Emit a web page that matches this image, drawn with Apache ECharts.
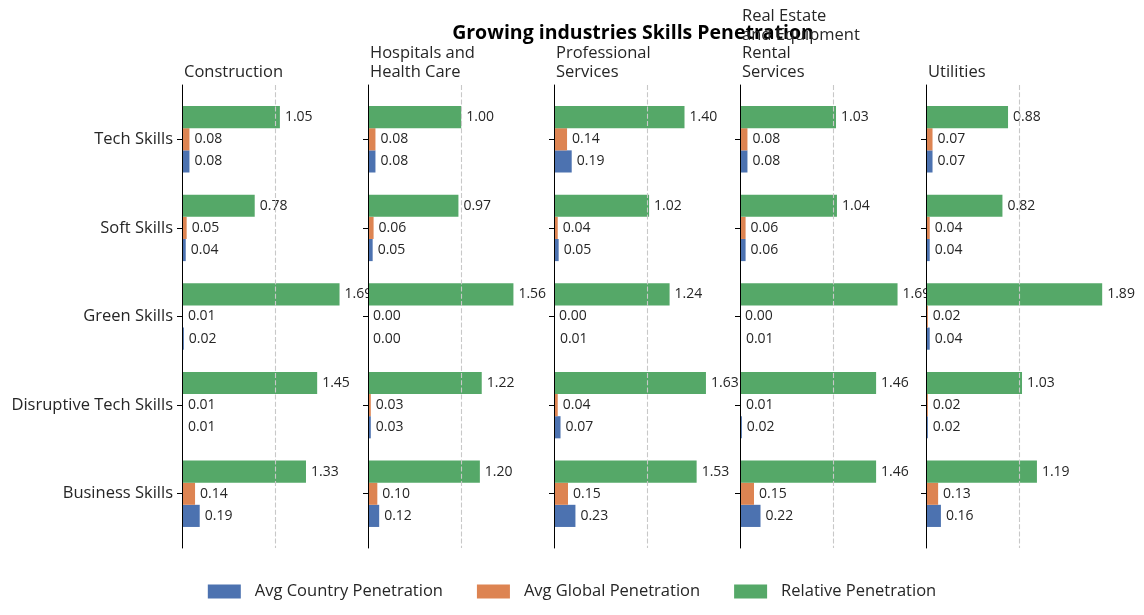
<!DOCTYPE html>
<html>
<head>
<meta charset="utf-8">
<script src="https://cdn.jsdelivr.net/npm/echarts@6/dist/echarts.min.js"></script>
<style>html,body{margin:0;padding:0;background:#fff}#c{width:1144px;height:615px}</style>
</head>
<body>
<div id="c"></div>
<script>
const chartTitle = 'Growing industries Skills Penetration';
const industries = ['Construction', 'Hospitals and\nHealth Care', 'Professional\nServices', 'Real Estate\nand Equipment\nRental\nServices', 'Utilities'];
const skills = ['Tech Skills', 'Soft Skills', 'Green Skills', 'Disruptive Tech Skills', 'Business Skills'];
const seriesNames = ['Avg Country Penetration', 'Avg Global Penetration', 'Relative Penetration'];
// values per industry, in skill order
const avgCountry = [
  [0.08, 0.04, 0.02, 0.01, 0.19],
  [0.08, 0.05, 0.00, 0.03, 0.12],
  [0.19, 0.05, 0.01, 0.07, 0.23],
  [0.08, 0.06, 0.01, 0.02, 0.22],
  [0.07, 0.04, 0.04, 0.02, 0.16]
];
const avgGlobal = [
  [0.08, 0.05, 0.01, 0.01, 0.14],
  [0.08, 0.06, 0.00, 0.03, 0.10],
  [0.14, 0.04, 0.00, 0.04, 0.15],
  [0.08, 0.06, 0.00, 0.01, 0.15],
  [0.07, 0.04, 0.02, 0.02, 0.13]
];
const relative = [
  [1.05, 0.78, 1.69, 1.45, 1.33],
  [1.00, 0.97, 1.56, 1.22, 1.20],
  [1.40, 1.02, 1.24, 1.63, 1.53],
  [1.03, 1.04, 1.69, 1.46, 1.46],
  [0.88, 0.82, 1.89, 1.03, 1.19]
];
const colors = ['#4c72b0', '#dd8452', '#55a868'];
const offsets = [0.25, 0, -0.25];
const BAR_H = 0.25;
const FONT = 'Open Sans';
const TXT = '#262626';

const allVals = [].concat(...avgCountry, ...avgGlobal, ...relative);
const xMax = Math.max(...allVals) * 1.05;
const yMin = -0.375 - 4.75 * 0.05, yMax = 4.375 + 4.75 * 0.05;

const PANEL_LEFT = 182, PANEL_STEP = 186, PANEL_W = 185, TOP = 85, HEIGHT = 463;

function makeRender(offset) {
  return function (params, api) {
    const v = api.value(0), c = api.value(1);
    const p0 = api.coord([0, c + offset]);
    const p1 = api.coord([v, c + offset]);
    const h = api.size([0, BAR_H])[1];
    return {
      type: 'rect',
      shape: { x: p0[0], y: p0[1] - h / 2, width: p1[0] - p0[0], height: h },
      style: { fill: api.visual('color') },
      textContent: { style: { text: v.toFixed(2), fill: TXT, fontSize: 14, fontFamily: FONT } },
      textConfig: { position: 'right', distance: 5 }
    };
  };
}

const grids = [], xAxes = [], yAxes = [], series = [], titles = [];
titles.push({
  text: chartTitle, left: 633, top: 23, textAlign: 'center', padding: 0, z: 100,
  textStyle: { fontFamily: FONT, fontWeight: 'bold', fontSize: 19.5, color: '#000' }
});
industries.forEach((ind, i) => {
  const zb = i * 10;
  grids.push({ left: PANEL_LEFT + i * PANEL_STEP, top: TOP, width: PANEL_W, height: HEIGHT,
    show: true, backgroundColor: '#fff', borderWidth: 0, z: zb });
  xAxes.push({
    type: 'value', gridIndex: i, min: 0, max: xMax, interval: 1, z: zb + 3,
    axisLine: { show: false }, axisTick: { show: false }, axisLabel: { show: false },
    splitLine: { show: true, showMinLine: false, showMaxLine: false,
      lineStyle: { type: [5, 2.2], color: '#c8c8c8', width: 1.1 } }
  });
  yAxes.push({
    type: 'value', gridIndex: i, inverse: true, min: yMin, max: yMax, z: zb + 4,
    axisLine: { show: true, lineStyle: { color: '#000', width: 1 } },
    axisTick: { show: true, length: 5, customValues: [0, 1, 2, 3, 4], lineStyle: { color: '#000' } },
    axisLabel: { show: i === 0, customValues: [0, 1, 2, 3, 4], margin: 9,
      formatter: v => skills[Math.round(v)] || '',
      fontFamily: FONT, fontSize: 16.5, color: TXT },
    splitLine: { show: false }
  });
  titles.push({
    text: ind, left: PANEL_LEFT + i * PANEL_STEP + 2, bottom: 533.5, padding: 0, z: 100,
    textStyle: { fontFamily: FONT, fontSize: 16.5, fontWeight: 'normal', color: TXT, lineHeight: 18.5 }
  });
  [avgCountry, avgGlobal, relative].forEach((arr, k) => {
    series.push({
      type: 'custom', name: seriesNames[k], xAxisIndex: i, yAxisIndex: i, z: zb + 2,
      itemStyle: { color: colors[k] },
      renderItem: makeRender(offsets[k]),
      encode: { x: 0, y: 1 },
      data: arr[i].map((v, j) => [v, j])
    });
  });
});

const chart = echarts.init(document.getElementById('c'));
chart.setOption({
  animation: false,
  backgroundColor: '#fff',
  title: titles,
  legend: {
    data: seriesNames, bottom: 10, left: 'center', icon: 'rect',
    itemWidth: 33, itemHeight: 14, itemGap: 34,
    textStyle: { fontFamily: FONT, fontSize: 16.5, color: TXT, padding: [0, 0, 0, 9] }
  },
  grid: grids, xAxis: xAxes, yAxis: yAxes, series: series
});
</script>
</body>
</html>
